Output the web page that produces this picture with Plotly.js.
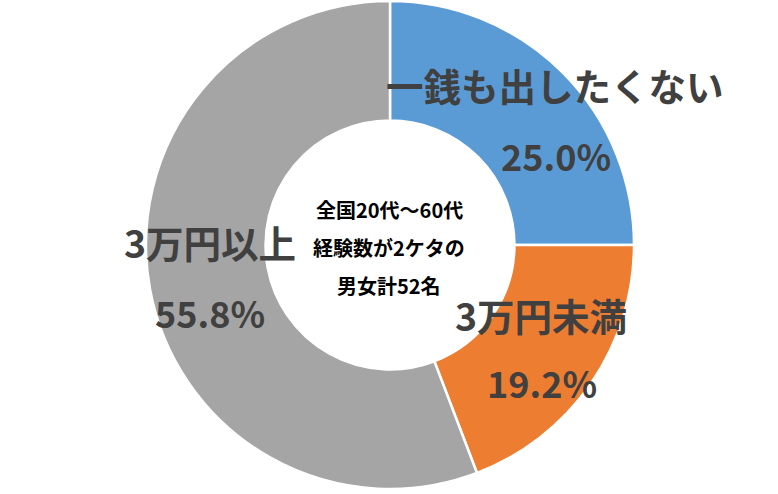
<!DOCTYPE html>
<html>
<head>
<meta charset="utf-8">
<script src="https://cdn.plot.ly/plotly-3.0.1.min.js"></script>
<style>html,body{margin:0;padding:0;background:#fff;}#chart{width:778px;height:494px;}</style>
</head>
<body>
<div id="chart"></div>
<script>
const categories = ["一銭も出したくない", "3万円未満", "3万円以上"];
const values = [25.0, 19.2, 55.8];
const percentLabels = ["25.0%", "19.2%", "55.8%"];
const centerLines = ["全国20代～60代", "経験数が2ケタの", "男女計52名"];
const colors = ["#5B9BD5", "#ED7D31", "#A5A5A5"];

const W = 778, H = 494;
const px = x => x / W;
const py = y => 1 - y / H;

// label pixel positions (layout only)
const catPos = [[555, 84], [541, 314], [210, 241]];
const pctPos = [[556, 155], [542, 382], [210, 312]];
const centerPos = [[389, 209], [389, 247], [389, 285]];

const catFont = {family: "Noto Sans CJK JP", size: 37.5, color: "#404040", weight: 700};
const pctFont = {family: "Noto Sans CJK JP", size: 36, color: "#404040", weight: 700};
const centerFont = {family: "Noto Sans CJK JP", size: 20, color: "#000000", weight: 700};

const annotations = [];
categories.forEach((c, i) => {
  annotations.push({text: c, x: px(catPos[i][0]), y: py(catPos[i][1]), xref: "paper", yref: "paper",
    showarrow: false, xanchor: "center", yanchor: "middle", font: catFont});
  annotations.push({text: percentLabels[i], x: px(pctPos[i][0]), y: py(pctPos[i][1]), xref: "paper", yref: "paper",
    showarrow: false, xanchor: "center", yanchor: "middle", font: pctFont});
});
centerLines.forEach((t, i) => {
  annotations.push({text: t, x: px(centerPos[i][0]), y: py(centerPos[i][1]), xref: "paper", yref: "paper",
    showarrow: false, xanchor: "center", yanchor: "middle", font: centerFont});
});

const trace = {
  type: "pie",
  labels: categories,
  values: values,
  hole: 0.51,
  sort: false,
  direction: "clockwise",
  rotation: 0,
  textinfo: "none",
  hoverinfo: "label+percent",
  marker: {colors: colors, line: {color: "#ffffff", width: 2.5}},
  domain: {x: [2 / W, 1], y: [5 / H, 1 - 1 / H]},
  showlegend: false
};

Plotly.newPlot("chart", [trace], {
  width: W, height: H,
  margin: {l: 0, r: 0, t: 0, b: 0},
  paper_bgcolor: "#ffffff",
  showlegend: false,
  annotations: annotations
}, {displayModeBar: false, staticPlot: true});
</script>
</body>
</html>
